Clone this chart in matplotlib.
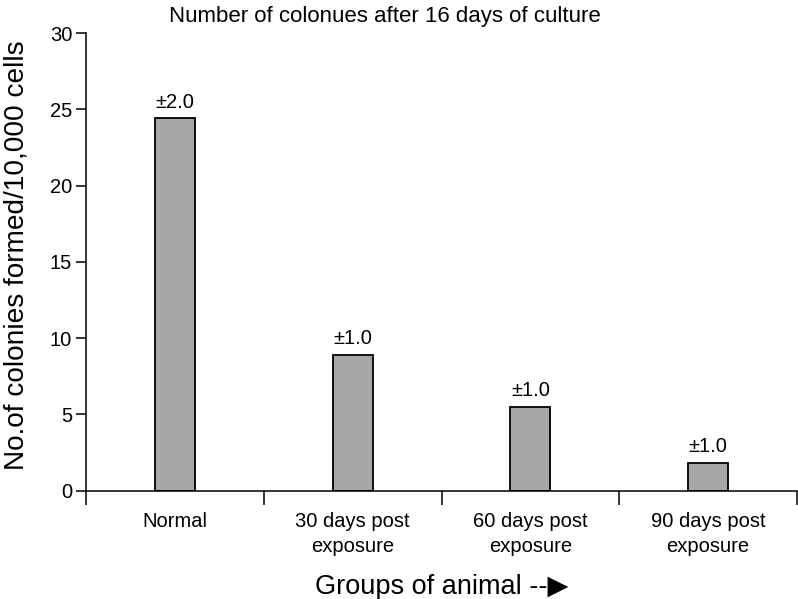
import matplotlib.pyplot as plt
from matplotlib.ticker import FixedLocator

plt.rcParams['font.family'] = ['Liberation Sans', 'DejaVu Sans']

# Data
groups = ["Normal", "30 days post\nexposure", "60 days post\nexposure", "90 days post\nexposure"]
colonies = [24.4, 8.9, 5.5, 1.8]
errors = ["\u00b12.0", "\u00b11.0", "\u00b11.0", "\u00b11.0"]
y_ticks = [0, 5, 10, 15, 20, 25, 30]

fig = plt.figure(figsize=(7.98, 5.99), dpi=100)
ax = fig.add_axes([0.1078, 0.1808, 0.891, 0.764])

x = list(range(len(groups)))
bars = ax.bar(x, colonies, width=0.225, color="#a6a6a6", edgecolor="black", linewidth=1.3)

for b, e in zip(bars, errors):
    ax.annotate(e, (b.get_x() + b.get_width() / 2, b.get_height()),
                xytext=(0, 5), textcoords="offset points",
                ha="center", va="bottom", fontsize=14.5)

ax.set_xlim(-0.5, len(groups) - 0.5)
ax.set_ylim(0, 30)
ax.set_yticks(y_ticks)

# category boundaries as major ticks, labels on minor ticks at bar centres
ax.xaxis.set_major_locator(FixedLocator([i - 0.5 for i in range(len(groups) + 1)]))
ax.xaxis.set_major_formatter(plt.NullFormatter())
ax.xaxis.set_minor_locator(FixedLocator(x))
ax.set_xticklabels(groups, minor=True, fontsize=14.5, linespacing=1.45)
ax.tick_params(axis="x", which="major", length=10, width=1.1, direction="out")
ax.tick_params(axis="x", which="minor", length=0, pad=15)
ax.tick_params(axis="y", length=7, width=1.1, labelsize=14.5, pad=3)

for side in ["top", "right"]:
    ax.spines[side].set_visible(False)
for side in ["left", "bottom"]:
    ax.spines[side].set_linewidth(1.1)

ax.set_ylabel("No.of colonies formed/10,000 cells", fontsize=20.2)
ax.yaxis.set_label_coords(-0.079, 0.514)
ax.set_xlabel("Groups of animal --\u25b6", fontsize=19.5, labelpad=13)
fig.text(0.482, 0.972, "Number of colonues after 16 days of culture",
         ha="center", va="center", fontsize=16)

fig.savefig("out.png", dpi=100)
